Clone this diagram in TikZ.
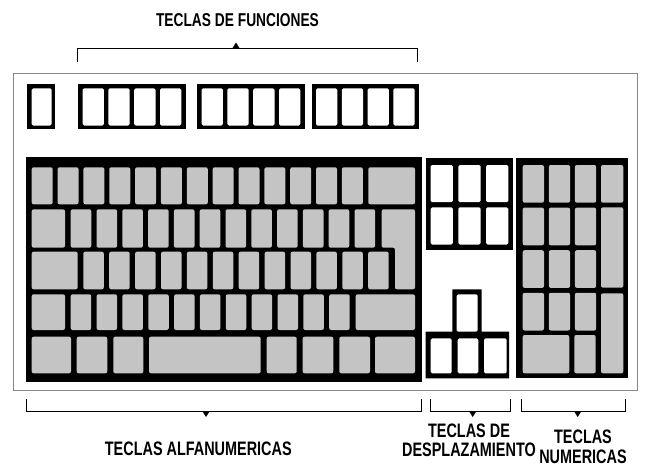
\documentclass[tikz,border=0pt]{standalone}
\usepackage{fontspec}
\newfontfamily\labelfont{Liberation Sans Bold}[FakeStretch=0.74]
\usetikzlibrary{positioning,calc}
\definecolor{keygray}{RGB}{196,196,196}
\definecolor{casegray}{RGB}{135,135,135}
\tikzset{
  case/.style={draw=casegray, line width=1.3pt},
  block/.style={fill=black},
  keycap/.style={fill=keygray, rounded corners=2pt},
  fkey/.style={fill=white, rounded corners=1.5pt},
  brace/.style={draw=black, line width=0.9pt},
  tip/.style={fill=black},
  caption/.style={font=\labelfont\fontsize{19.5}{18.5}\selectfont, inner sep=0pt, align=center},
}

\begin{document}
\begin{tikzpicture}[x=1pt,y=-1pt]
      \useasboundingbox (0,0) rectangle (646,467);

      % keyboard case
      \draw[case] (13.3,73.3) rectangle (637.3,390.7);

      % function keys
      \fill[block] (27.3,84) rectangle (55,129.3);
      \fill[fkey] (31.7,88.3) rectangle (51.7,125.5);
      \foreach \gx in {78.3,197.3,311.7}{
        \fill[block] (\gx,84) rectangle ++(107.3,45.3);
        \foreach \k in {0,...,3}{
          \fill[fkey] ({\gx+4.3+25.8*\k},88.3) rectangle ++(21.3,37.2);
        }
      }

      % alphanumeric block
      \fill[block] (26,157.3) rectangle (422,382.3);
      \foreach \k in {0,...,12}{
        \fill[keycap] ({31.7+25.85*\k},167.3) rectangle ++(21,37);
      }
      \fill[keycap] (368.3,167.3) rectangle (415,204.3);
      \fill[keycap] (31.7,209.3) rectangle (65,247.7);
      \foreach \k in {0,...,11}{
        \fill[keycap] ({70.7+25.8*\k},209.3) rectangle ++(20.6,38.4);
      }
      \fill[keycap] (381.7,209.3) -- (415,209.3) -- (415,289.3) -- (395,289.3)
        -- (395,247.7) -- (381.7,247.7) -- cycle;
      \fill[keycap] (31.7,251.7) rectangle (77.7,289.3);
      \foreach \k in {0,...,11}{
        \fill[keycap] ({83.3+25.9*\k},251.7) rectangle ++(20.5,37.6);
      }
      \fill[keycap] (31.7,294.3) rectangle (65,330);
      \foreach \k in {0,...,10}{
        \fill[keycap] ({70.7+25.85*\k},294.3) rectangle ++(20.5,35.7);
      }
      \fill[keycap] (355.7,294.3) rectangle (415,330);
      \foreach \a/\b in {31.7/71,76.7/107.3,113.3/143.3,149/260.7,266.7/296.7,302.7/333.3,339.3/370,375/415}{
        \fill[keycap] (\a,336.7) rectangle (\b,373.3);
      }

      % cursor keys
      \fill[block] (425.7,158.3) rectangle (513.3,250);
      \foreach \r in {0,1}{
        \foreach \c in {0,1,2}{
          \fill[fkey] ({430.7+27.7*\c},{165+42.3*\r}) rectangle ++(22.2,37.2);
        }
      }
      \fill[block] (452.3,289.3) -- (481.7,289.3) -- (481.7,331.7) -- (509,331.7)
        -- (509,378.3) -- (425.7,378.3) -- (425.7,331.7) -- (452.3,331.7) -- cycle;
      \fill[fkey] (456.7,294.3) rectangle (477.7,331.7);
      \foreach \a/\b in {430.7/451.7,457.7/478.3,484/506.7}{
        \fill[fkey] (\a,338.3) rectangle (\b,373.3);
      }

      % numeric pad
      \fill[block] (516,158.3) rectangle (628.3,378.3);
      \foreach \r in {0,...,3}{
        \foreach \c in {0,1,2}{
          \fill[keycap] ({522.7+26.1*\c},{165+42.6*\r}) rectangle ++(21.3,37.7);
        }
      }
      \fill[keycap] (601,165) rectangle (623.3,202.7);
      \fill[keycap] (601,207.3) rectangle (623.3,287.7);
      \fill[keycap] (601,293.3) rectangle (623.3,373.3);
      \fill[keycap] (522.7,335) rectangle (569.3,373.3);
      \fill[keycap] (574.3,335) rectangle (595.7,373.3);

      % labels
      \node[caption, font=\labelfont\fontsize{18.6}{18.6}\selectfont] (lblfun) at (237.5,20) {TECLAS DE FUNCIONES};
      \node[caption] (lblalfa) at (198.3,449) {TECLAS ALFANUMERICAS};
      \node[caption] (lbldesp) at (469,440.5) {TECLAS DE\\DESPLAZAMIENTO};
      \node[caption, font=\labelfont\fontsize{19.5}{20.5}\selectfont] (lblnum) at (583,447) {TECLAS\\NUMERICAS};

      % brackets
      \draw[brace] (77.5,62) -- (77.5,48) -- (417.5,48) -- (417.5,62);
      \fill[tip] (236,48) -- ++(-3.5,0) -- ++(3.5,-5.5) -- ++(3.5,5.5) -- cycle;
      \foreach \xa/\xb/\xt in {26/421.7/206,430/510/472.7,521.7/625.7/577.7}{
        \draw[brace] (\xa,399) -- (\xa,411.5) -- (\xb,411.5) -- (\xb,399);
        \fill[tip] (\xt,411.5) -- ++(-3.5,0) -- ++(3.5,5.5) -- ++(3.5,-5.5) -- cycle;
      }
    \end{tikzpicture}
\end{document}
